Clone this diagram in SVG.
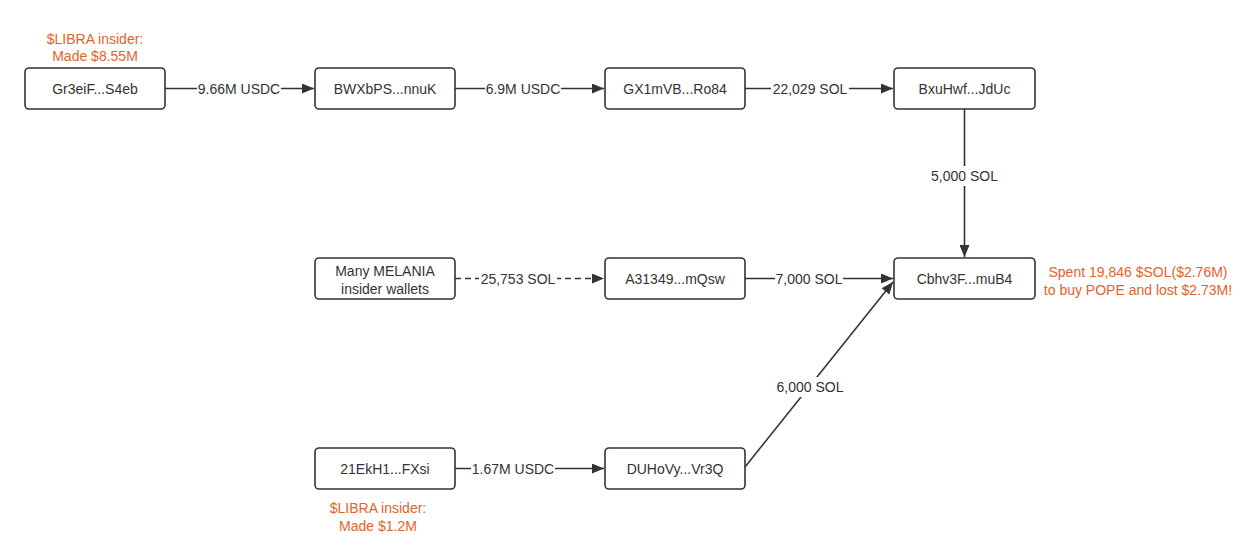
<svg xmlns="http://www.w3.org/2000/svg" width="1258" height="560" viewBox="0 0 1258 560">
<style>
.box{fill:#fff;stroke:#333;stroke-width:1.6}
.t{font-family:"Liberation Sans",Arial,sans-serif;font-size:14px;fill:#333;text-anchor:middle}
.lbl{font-family:"Liberation Sans",Arial,sans-serif;font-size:14px;fill:#333;text-anchor:middle}
.bg{fill:#fff}
.note{font-family:"Liberation Sans",Arial,sans-serif;font-size:14px;fill:#E2632C;text-anchor:middle}
.e{stroke:#333;stroke-width:1.6;fill:none}
.d{stroke-dasharray:6 4}
</style>
<defs>
<marker id="ah" viewBox="0 0 12 10" refX="12" refY="5" markerWidth="12" markerHeight="10" markerUnits="userSpaceOnUse" orient="auto">
<path d="M0,0 L12,5 L0,10 Z" fill="#333"/>
</marker>
</defs>
<rect width="1258" height="560" fill="#fff"/>
<g id="connectors">
<line class="e" x1="165" y1="88.5" x2="314" y2="88.5" marker-end="url(#ah)"/>
<rect class="bg" x="197" y="81" width="84" height="15"/>
<text class="lbl" x="239" y="93.5">9.66M USDC</text>
<line class="e" x1="455" y1="88.5" x2="604" y2="88.5" marker-end="url(#ah)"/>
<rect class="bg" x="485" y="81" width="76" height="15"/>
<text class="lbl" x="523" y="93.5">6.9M USDC</text>
<line class="e" x1="745" y1="88.5" x2="893" y2="88.5" marker-end="url(#ah)"/>
<rect class="bg" x="771" y="81" width="78" height="15"/>
<text class="lbl" x="810" y="93.5">22,029 SOL</text>
<line class="e" x1="964.5" y1="109" x2="964.5" y2="257" marker-end="url(#ah)"/>
<rect class="bg" x="930" y="166" width="69" height="20"/>
<text class="lbl" x="964.5" y="181">5,000 SOL</text>
<line class="e d" x1="455" y1="278.5" x2="604" y2="278.5" marker-end="url(#ah)"/>
<rect class="bg" x="479" y="271" width="78" height="15"/>
<text class="lbl" x="518" y="283.5">25,753 SOL</text>
<line class="e" x1="745" y1="278.5" x2="893" y2="278.5" marker-end="url(#ah)"/>
<rect class="bg" x="775" y="271" width="68" height="15"/>
<text class="lbl" x="809" y="283.5">7,000 SOL</text>
<line class="e" x1="455" y1="468.5" x2="604" y2="468.5" marker-end="url(#ah)"/>
<rect class="bg" x="471" y="461" width="84" height="15"/>
<text class="lbl" x="513" y="473.5">1.67M USDC</text>
<line class="e" x1="745" y1="467" x2="893" y2="282" marker-end="url(#ah)"/>
<rect class="bg" x="776" y="377" width="68" height="20"/>
<text class="lbl" x="810" y="392">6,000 SOL</text>
</g>
<g id="n-gr3eif">
<rect class="box" x="25" y="68" width="140" height="41" rx="4"/>
<text class="t" x="95" y="93.5">Gr3eiF...S4eb</text>
</g>
<g id="n-bwxbps">
<rect class="box" x="315" y="68" width="140" height="41" rx="4"/>
<text class="t" x="385" y="93.5">BWXbPS...nnuK</text>
</g>
<g id="n-gx1mvb">
<rect class="box" x="605" y="68" width="140" height="41" rx="4"/>
<text class="t" x="675" y="93.5">GX1mVB...Ro84</text>
</g>
<g id="n-bxuhwf">
<rect class="box" x="894" y="68" width="141" height="41" rx="4"/>
<text class="t" x="964.5" y="93.5">BxuHwf...JdUc</text>
</g>
<g id="n-melania">
<rect class="box" x="315" y="258" width="140" height="41" rx="4"/>
<text class="t" x="385" y="276">Many MELANIA</text>
<text class="t" x="385" y="294">insider wallets</text>
</g>
<g id="n-a31349">
<rect class="box" x="605" y="258" width="140" height="41" rx="4"/>
<text class="t" x="675" y="283.5">A31349...mQsw</text>
</g>
<g id="n-cbhv3f">
<rect class="box" x="894" y="258" width="141" height="41" rx="4"/>
<text class="t" x="964.5" y="283.5">Cbhv3F...muB4</text>
</g>
<g id="n-21ekh1">
<rect class="box" x="315" y="448" width="140" height="41" rx="4"/>
<text class="t" x="385" y="473.5">21EkH1...FXsi</text>
</g>
<g id="n-duhovy">
<rect class="box" x="605" y="448" width="140" height="41" rx="4"/>
<text class="t" x="675" y="473.5">DUHoVy...Vr3Q</text>
</g>
<g id="notes">
<text class="note" x="95" y="44">$LIBRA insider:</text>
<text class="note" x="95" y="61">Made $8.55M</text>
<text class="note" x="1138" y="277">Spent 19,846 $SOL($2.76M)</text>
<text class="note" x="1138" y="295">to buy POPE and lost $2.73M!</text>
<text class="note" x="378" y="513">$LIBRA insider:</text>
<text class="note" x="378" y="531">Made $1.2M</text>
</g>
</svg>
